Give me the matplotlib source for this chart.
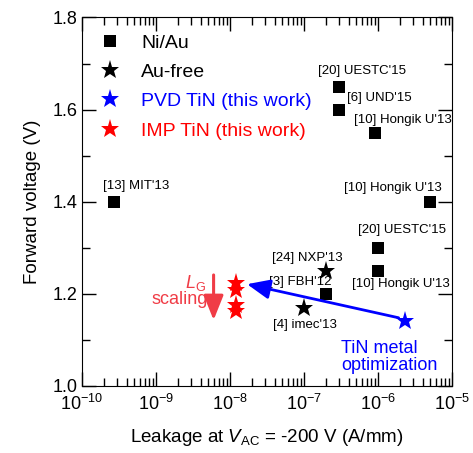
import matplotlib
matplotlib.use('Agg')
import matplotlib.pyplot as plt
from matplotlib.ticker import MultipleLocator, LogLocator, FormatStrFormatter

plt.rcParams['font.family'] = ['Liberation Sans', 'DejaVu Sans']
plt.rcParams['mathtext.fontset'] = 'custom'
plt.rcParams['mathtext.rm'] = 'Liberation Sans'
plt.rcParams['mathtext.it'] = 'Liberation Sans:italic'

# Ni/Au references
niau_x = [2.7e-10, 3e-7, 3e-7, 9e-7, 5e-6, 1e-6, 1e-6, 2e-7]
niau_y = [1.40, 1.65, 1.60, 1.55, 1.40, 1.30, 1.25, 1.20]
# Au-free references
aufree_x = [2e-7, 1e-7]
aufree_y = [1.25, 1.17]
# this work
pvd_x = [2.3e-6]
pvd_y = [1.14]
imp_x = [1.2e-8, 1.2e-8, 1.2e-8, 1.2e-8]
imp_y = [1.223, 1.209, 1.176, 1.162]

ref_labels = ["[13] MIT'13", "[20] UESTC'15", "[6] UND'15", "[10] Hongik U'13",
              "[10] Hongik U'13", "[20] UESTC'15", "[10] Hongik U'13",
              "[24] NXP'13", "[3] FBH'12", "[4] imec'13"]
ref_label_x = [1.9e-10, 1.55e-7, 3.8e-7, 4.8e-7, 3.5e-7, 5.4e-7, 4.4e-7, 3.7e-8, 3.4e-8, 3.8e-8]
ref_label_y = [1.434, 1.684, 1.625, 1.578, 1.430, 1.339, 1.221, 1.278, 1.226, 1.132]

red = '#f03c46'

fig = plt.figure(figsize=(4.73, 4.53), dpi=100)
ax = fig.add_axes([0.1734, 0.148, 0.7822, 0.8134])

ax.plot(niau_x, niau_y, 's', color='k', ms=8.6, mew=0, label='Ni/Au')
ax.plot(aufree_x, aufree_y, '*', color='k', ms=14, mew=0, label='Au-free')
ax.plot(pvd_x, pvd_y, '*', color='blue', ms=14, mew=0, label='PVD TiN (this work)')
ax.plot(imp_x, imp_y, '*', color='red', ms=14, mew=0, label='IMP TiN (this work)')

for t, x, y in zip(ref_labels, ref_label_x, ref_label_y):
    ax.text(x, y, t, fontsize=9.5, ha='left', va='center')

# TiN optimization arrow
ax.annotate('', xy=(1.7e-8, 1.221), xytext=(1.9e-6, 1.148),
            arrowprops=dict(arrowstyle='-|>,head_length=0.7,head_width=0.3',
                            color='blue', lw=2, shrinkA=0, shrinkB=0,
                            mutation_scale=20))
ax.text(3.2e-7, 1.063, 'TiN metal\noptimization', color='blue', fontsize=13,
        ha='left', va='center', linespacing=1.05)

# L_G scaling arrow
ax.annotate('', xy=(6e-9, 1.143), xytext=(6e-9, 1.241),
            arrowprops=dict(arrowstyle='-|>,head_length=0.75,head_width=0.3',
                            color=red, lw=2.2, shrinkA=0, shrinkB=0,
                            mutation_scale=20))
ax.text(3.4e-9, 1.224, r'$L_{\rm G}$', color=red, fontsize=13, ha='center', va='center')
ax.text(5.0e-9, 1.187, 'scaling', color=red, fontsize=13, ha='right', va='center')

ax.set_xscale('log')
ax.set_xlim(1e-10, 1e-5)
ax.set_ylim(1.0, 1.8)
ax.yaxis.set_major_locator(MultipleLocator(0.2))
ax.yaxis.set_minor_locator(MultipleLocator(0.1))
ax.xaxis.set_major_locator(LogLocator(base=10, numticks=10))
ax.xaxis.set_minor_locator(LogLocator(base=10, subs=range(2, 10), numticks=20))
ax.yaxis.set_major_formatter(FormatStrFormatter('%.1f'))

ax.tick_params(which='both', direction='in', top=True, right=True, labelsize=13)
ax.tick_params(which='major', length=10, width=1)
ax.tick_params(which='minor', length=5.5, width=1)
ax.tick_params(axis='x', pad=6)

ax.set_xlabel(r'Leakage at $V_{\rm AC}$ = -200 V (A/mm)', fontsize=13.5, labelpad=9)
ax.set_ylabel('Forward voltage (V)', fontsize=13.5, labelpad=8)

leg = ax.legend(loc='upper left', bbox_to_anchor=(0.05, 0.955), frameon=False,
                fontsize=14, handlelength=1.0, handletextpad=1.1,
                labelspacing=0.6, borderpad=0, borderaxespad=0,
                labelcolor=['k', 'k', 'blue', 'red'])

plt.savefig('out.png', dpi=100)
